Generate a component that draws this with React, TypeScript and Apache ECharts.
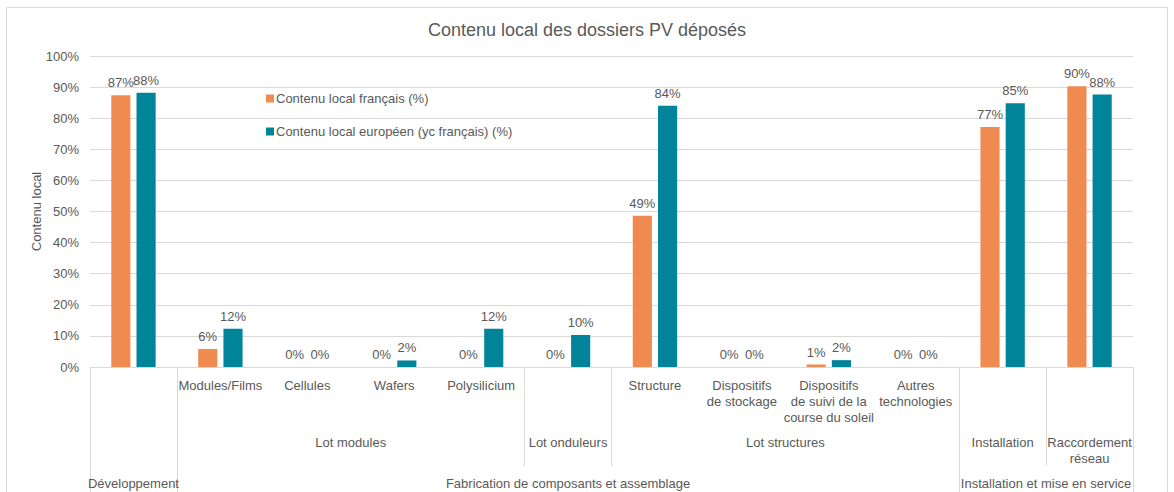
import React, { useEffect, useRef } from "react";
import * as echarts from "echarts";

const categories = [
  "",
  "Modules/Films",
  "Cellules",
  "Wafers",
  "Polysilicium",
  "",
  "Structure",
  "Dispositifs\nde stockage",
  "Dispositifs\nde suivi de la\ncourse du soleil",
  "Autres\ntechnologies",
  "",
  "",
];

const frenchShare = [87.4, 5.8, 0, 0, 0, 0, 48.6, 0, 0.8, 0, 77.2, 90.3];
const europeanShare = [88.2, 12.3, 0, 2.1, 12.3, 10.3, 84.0, 0, 2.2, 0, 84.8, 87.6];

const seriesNames = ["Contenu local français (%)", "Contenu local européen (yc français) (%)"];

const groupNames = ["", "Lot modules", "Lot onduleurs", "Lot structures", "Installation", "Raccordement\nréseau"];
const groupSpans = [1, 4, 1, 4, 1, 1];

const sectionNames = ["Développement", "Fabrication de composants et assemblage", "Installation et mise en service"];
const sectionSpans = [1, 9, 2];

const yTicks = [0, 10, 20, 30, 40, 50, 60, 70, 80, 90, 100];

function spansToLayout(names: string[], spans: number[]) {
  const centers: number[] = [];
  const bounds: number[] = [0];
  let acc = 0;
  spans.forEach((s) => {
    centers.push(acc + s / 2);
    acc += s;
    bounds.push(acc);
  });
  return { centers, bounds, names };
}

const TEXT = "#595959";
const LINE = "#D9D9D9";
const FONT = "'Liberation Sans', Arial, sans-serif";

export default function App() {
  const ref = useRef<HTMLDivElement>(null);
  useEffect(() => {
    if (!ref.current) return;
    const chart = echarts.init(ref.current, null, { renderer: "svg" });
    const n = categories.length;
    const groups = spansToLayout(groupNames, groupSpans);
    const sections = spansToLayout(sectionNames, sectionSpans);
    const lookup = (layout: { centers: number[]; names: string[] }) => (v: number) => {
      const i = layout.centers.findIndex((c) => Math.abs(c - v) < 1e-6);
      return i >= 0 ? layout.names[i] : "";
    };
    const labelCfg = {
      show: true,
      position: "top",
      distance: 6,
      fontSize: 13,
      color: TEXT,
      fontFamily: FONT,
      formatter: (p: any) => Math.round(p.value) + "%",
    };
    chart.setOption({
      animation: false,
      textStyle: { fontFamily: FONT },
      title: {
        text: "Contenu local des dossiers PV déposés",
        left: "center",
        top: 21,
        padding: 0,
        textStyle: { fontSize: 18, fontWeight: "normal", color: TEXT, fontFamily: FONT },
      },
      legend: {
        orient: "vertical",
        left: 266,
        top: 92,
        padding: 0,
        itemWidth: 8,
        itemHeight: 8,
        itemGap: 20,
        icon: "rect",
        textStyle: { fontSize: 13, color: TEXT, fontFamily: FONT, padding: [0, 0, 0, -3] },
        data: seriesNames,
      },
      grid: { left: 90, right: 41, top: 56, bottom: 125, containLabel: false },
      graphic: [
        {
          type: "rect",
          shape: { x: 6.5, y: 7.5, width: 1161, height: 520 },
          style: { fill: "none", stroke: LINE, lineWidth: 1 },
          silent: true,
        },
      ],
      xAxis: [
        {
          type: "category",
          data: categories,
          axisLine: { show: true, lineStyle: { color: LINE, width: 1 } },
          axisTick: { show: false },
          axisLabel: {
            interval: 0,
            margin: 10,
            fontSize: 13,
            lineHeight: 16,
            color: TEXT,
            fontFamily: FONT,
          },
        },
        {
          type: "value",
          min: 0,
          max: n,
          position: "bottom",
          axisLine: { show: false },
          splitLine: { show: false },
          axisTick: {
            show: true,
            customValues: groups.bounds.slice(1, -1),
            length: 99,
            lineStyle: { color: LINE, width: 1 },
          },
          axisLabel: {
            customValues: groups.centers,
            formatter: lookup(groups),
            margin: 67,
            fontSize: 13,
            lineHeight: 16,
            color: TEXT,
            fontFamily: FONT,
          },
        },
        {
          type: "value",
          min: 0,
          max: n,
          position: "bottom",
          axisLine: { show: false },
          splitLine: { show: false },
          axisTick: {
            show: true,
            customValues: sections.bounds,
            length: 130,
            lineStyle: { color: LINE, width: 1 },
          },
          axisLabel: {
            customValues: sections.centers,
            formatter: lookup(sections),
            margin: 108,
            fontSize: 13,
            lineHeight: 16,
            color: TEXT,
            fontFamily: FONT,
          },
        },
      ],
      yAxis: {
        type: "value",
        min: yTicks[0],
        max: yTicks[yTicks.length - 1],
        interval: yTicks[1] - yTicks[0],
        name: "Contenu local",
        nameLocation: "middle",
        nameGap: 47,
        nameMoveOverlap: false,
        nameTextStyle: { fontSize: 13, color: TEXT, fontFamily: FONT },
        axisLine: { show: false },
        axisTick: { show: false },
        splitLine: { lineStyle: { color: LINE, width: 1 } },
        axisLabel: {
          formatter: "{value}%",
          margin: 11,
          fontSize: 13,
          color: TEXT,
          fontFamily: FONT,
        },
      },
      series: [
        {
          name: seriesNames[0],
          type: "bar",
          xAxisIndex: 0,
          data: frenchShare,
          barWidth: "22%",
          barGap: "32%",
          itemStyle: { color: "#EF8A51" },
          label: labelCfg,
        },
        {
          name: seriesNames[1],
          type: "bar",
          xAxisIndex: 0,
          data: europeanShare,
          barWidth: "22%",
          barGap: "32%",
          itemStyle: { color: "#00849A" },
          label: labelCfg,
        },
      ],
    });
    return () => chart.dispose();
  }, []);
  return (
    <div
      ref={ref}
      style={{ position: "fixed", left: 0, top: 0, width: 1174, height: 492, background: "#fff" }}
    />
  );
}
